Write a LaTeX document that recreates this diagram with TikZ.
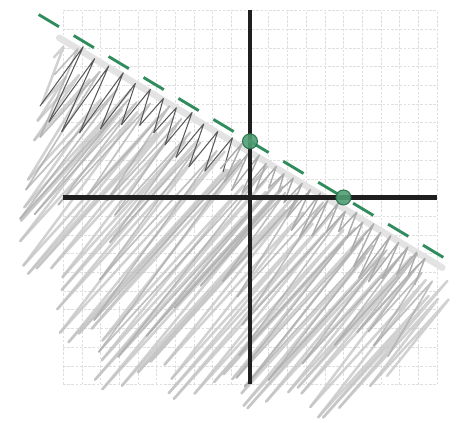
\documentclass[tikz,border=0pt]{standalone}
\usetikzlibrary{calc}
\definecolor{lngreen}{RGB}{48,140,92}

\begin{document}
\begin{tikzpicture}[x=0.5cm, y=0.5cm,
  gridln/.style={gray!25, line width=0.3pt, dash pattern=on 2pt off 1.2pt},
  axis/.style={line width=3.4pt, black!88},
  bound/.style={lngreen, line width=2.2pt, dash pattern=on 18pt off 13pt},
  ipt/.style={circle, draw=lngreen!80!black, fill=lngreen!85, line width=0.8pt, inner sep=0pt, minimum size=0.4cm, opacity=0.9},
  scribL/.style={gray!48, line width=1.9pt, line cap=round, line join=round, opacity=0.75},
  scribM/.style={gray!65, line width=1.3pt, line cap=round, line join=round, opacity=0.75},
  scribD/.style={black!65, line width=0.8pt, line cap=round, line join=round},
  scribG/.style={gray!65, line width=1.1pt, line cap=round, line join=round},
  band/.style={gray!22, line width=5pt, line cap=round},
  declare function={dep(\t)=min(3.29*(\t+11.8),11.2+0.574*(\t+8.4),15.7-0.43*(\t+0.56),10.6-1.72*(\t-11.3));},
]
\useasboundingbox (-13.37,-12.06) rectangle (11.02,10.56);

% ====== Grid ======
\foreach \k in {-10,...,10} {
  \draw[gridln] (\k,-10) -- (\k,10);
  \draw[gridln] (-10,\k) -- (10,\k);
}

% ====== Shading below the line (t along it, s below it) ======
\begin{scope}[shift={(0,3)}, rotate=-30.96]
  \draw[band] (-11.6,-0.5) -- (12.3,-0.5);
  % long light strokes
  \foreach \i in {0,...,45} {
    \pgfmathsetmacro\tA{-11.3+0.52*\i+0.2*sin(97*\i)}
    \pgfmathsetmacro\tB{-11.3+0.52*(\i+1)+0.2*sin(97*(\i+1))}
    \pgfmathsetmacro\sA{dep(\tA)*(0.93+0.07*sin(53*\i))}
    \pgfmathsetmacro\sB{dep(\tB)*(0.93+0.07*sin(53*(\i+1)))}
    \pgfmathsetmacro\sT{0.8+1.4*abs(sin(71*\i))}
    \pgfmathsetmacro\tP{\tA+0.2*(\sA-\sT)}
    \pgfmathsetmacro\sT{max(\sT,0.4+(\tP-12.7)/0.55)}
    \draw[scribL] (\tA,-\sA) -- (\tP,-\sT) -- (\tB,-\sB);
  }
  % shorter medium strokes
  \foreach \i in {0,...,28} {
    \pgfmathsetmacro\tA{-10.8+0.8*\i+0.3*sin(61*\i)}
    \pgfmathsetmacro\tB{-10.8+0.8*(\i+1)+0.3*sin(61*(\i+1))}
    \pgfmathsetmacro\sA{dep(\tA)*(0.7+0.2*sin(37*\i))}
    \pgfmathsetmacro\sB{dep(\tB)*(0.7+0.2*sin(37*(\i+1)))}
    \pgfmathsetmacro\sT{0.5+0.9*abs(sin(29*\i))}
    \pgfmathsetmacro\tP{\tA+0.2*(\sA-\sT)}
    \pgfmathsetmacro\sT{max(\sT,0.4+(\tP-12.7)/0.55)}
    \draw[scribM] (\tA,-\sA) -- (\tP,-\sT) -- (\tB,-\sB);
  }
  % dark zigzag under the line, left part
  \foreach \i in {0,...,11} {
    \pgfmathsetmacro\tA{-10.6+0.85*\i}
    \pgfmathsetmacro\tB{-10.6+0.85*(\i+1)}
    \pgfmathsetmacro\sA{(2.3-3.0*\tA/11)*(0.8+0.2*sin(43*\i))}
    \pgfmathsetmacro\sB{(2.3-3.0*\tB/11)*(0.8+0.2*sin(43*(\i+1)))}
    \pgfmathsetmacro\sT{0.25+0.25*abs(sin(67*\i))}
    \draw[scribD] (\tA,-\sA) -- (\tA+0.35,-\sT) -- (\tB,-\sB);
  }
  % gray zigzag under the line, right part
  \foreach \i in {0,...,21} {
    \pgfmathsetmacro\tA{-0.6+0.55*\i}
    \pgfmathsetmacro\tB{-0.6+0.55*(\i+1)}
    \pgfmathsetmacro\sA{(2.6+0.06*\tA)*(0.8+0.25*sin(47*\i))}
    \pgfmathsetmacro\sB{(2.6+0.06*\tB)*(0.8+0.25*sin(47*(\i+1)))}
    \pgfmathsetmacro\sT{0.3+0.3*abs(sin(83*\i))}
    \draw[scribG] (\tA,-\sA) -- (\tA+0.3,-\sT) -- (\tB,-\sB);
  }
\end{scope}

% ====== Axes ======
\coordinate (xL) at (-10,0);
\coordinate (xR) at (10,0);
\coordinate (yB) at (0,-10);
\coordinate (yT) at (0,10);
\draw[axis] (xL) -- (xR);
\draw[axis] (yB) -- (yT);

% ====== Boundary line and intercepts ======
\coordinate (lnA) at (-11.3,9.78);
\coordinate (lnB) at (10.9,-3.54);
\draw[bound] (lnA) -- (lnB);
\node[ipt] (yint) at (0,3) {};
\node[ipt] (xint) at (5,0) {};

\end{tikzpicture}
\end{document}
